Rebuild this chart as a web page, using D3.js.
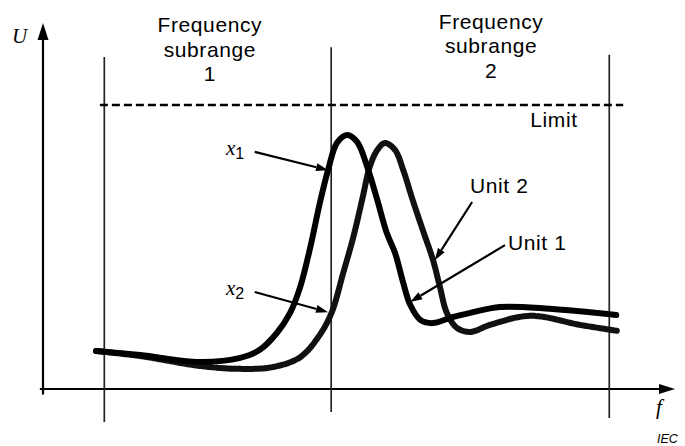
<html>
<head>
<script src='https://d3js.org/d3.v7.min.js'></script>
<style>
body {margin: 0; background: white;}
text {font-family: "Liberation Sans", Arial, sans-serif;}
.ital {font-family: "Liberation Serif", "Times New Roman", serif; font-style: italic;}
</style>
</head>
<body>
<svg width=685 height=446></svg>
<script>
// frequency f (0..100) against level U (0..100)
var unit1F = [8.4, 15.4, 24.8, 31.2, 34.3, 37.0, 39.1, 40.7, 42.3, 43.8, 45.1, 46.5, 48.1, 49.7, 51.3, 52.9, 54.4, 55.7, 57.0, 58.1, 59.7, 61.7, 64.9, 67.6, 72.3, 80.2, 90.7];
var unit1U = [10.4, 9.3, 7.4, 8.5, 10.7, 15.3, 20.8, 27.9, 38.8, 50.8, 59.8, 67.2, 69.4, 67.5, 60.7, 51.6, 42.6, 37.2, 29.0, 23.0, 18.9, 18.0, 19.7, 20.8, 22.4, 21.9, 20.2];

var unit2F = [8.4, 15.4, 24.8, 31.2, 36.4, 40.7, 43.8, 45.7, 47.5, 49.1, 50.6, 51.7, 52.9, 54.1, 55.7, 57.0, 58.5, 60.1, 61.7, 62.8, 63.9, 65.5, 67.6, 70.7, 77.1, 85.0, 90.8];
var unit2U = [10.4, 9.0, 6.3, 5.5, 6.0, 8.7, 14.8, 21.0, 31.7, 41.5, 52.5, 60.7, 65.3, 67.2, 65.3, 59.8, 51.6, 43.4, 35.3, 27.9, 20.8, 16.7, 15.6, 17.5, 20.0, 17.5, 15.9];

var subrangeF = [9.7, 45.6, 89.6];
var subrangeTop = [90.7, 93.4, 91.3];
var subrangeBottom = [-9.0, -6.3, -7.9];

var limitU = 77.6;
var limitF = [9.0, 91.8];

var subrangeLabels = [["Frequency", "subrange", "1"], ["Frequency", "subrange", "2"]];
var subrangeLabelF = [26.4, 70.9];
var subrangeLabelU = [97.5, 98.4];

// annotation arrows: [f, U] start and tip
var arrowNames = ["x1", "x2", "Unit 2", "Unit 1"];
var arrowFrom = [[33.5, 64.8], [33.5, 26.5], [67.9, 51.1], [73.1, 39.3]];
var arrowTo = [[45.1, 59.8], [45.1, 21.0], [62.0, 35.2], [58.1, 23.8]];

var svg = d3.select("svg");

var x = d3.scaleLinear().domain([0, 100]).range([43, 675]);
var y = d3.scaleLinear().domain([0, 100]).range([389, 23]);

function head(x0, y0, x1, y1, len, w) {
    var a = Math.atan2(y1 - y0, x1 - x0);
    var bx = x1 - len * Math.cos(a), by = y1 - len * Math.sin(a);
    var px = -Math.sin(a) * w / 2, py = Math.cos(a) * w / 2;
    return [[x1, y1], [bx + px, by + py], [bx - px, by - py]];
}

// axes
svg.append("line")
   .attr("x1", x(0)).attr("y1", y(-1.5)).attr("x2", x(0)).attr("y2", y(100) + 10)
   .attr("stroke", "black").attr("stroke-width", 2.2);
svg.append("polygon")
   .attr("points", head(x(0), y(0), x(0), y(100), 17, 11).join(" "))
   .attr("fill", "black");
svg.append("line")
   .attr("x1", x(-0.5)).attr("y1", y(0)).attr("x2", x(100) - 10).attr("y2", y(0))
   .attr("stroke", "black").attr("stroke-width", 2.2);
svg.append("polygon")
   .attr("points", head(x(0), y(0), x(100), y(0), 16, 10).join(" "))
   .attr("fill", "black");

svg.append("text").attr("class", "ital")
   .attr("x", 12).attr("y", 43).style("font-size", "21px").text("U");
svg.append("text").attr("class", "ital")
   .attr("x", 656).attr("y", 414).style("font-size", "21px").text("f");
svg.append("text")
   .attr("x", 657).attr("y", 443).style("font-size", "12.5px").style("font-style", "italic")
   .text("IEC");

// subrange boundaries
svg.selectAll(".sub")
   .data(subrangeF)
   .enter()
   .append("line")
    .attr("x1", function(d) {return x(d);})
    .attr("x2", function(d) {return x(d);})
    .attr("y1", function(d, i) {return y(subrangeTop[i]);})
    .attr("y2", function(d, i) {return y(subrangeBottom[i]);})
    .attr("stroke", "#222").attr("stroke-width", 1.7);

// limit
svg.append("line")
   .attr("x1", x(limitF[0])).attr("x2", x(limitF[1]))
   .attr("y1", y(limitU)).attr("y2", y(limitU))
   .attr("stroke", "black").attr("stroke-width", 2.4)
   .attr("stroke-dasharray", "8,4");
svg.append("text")
   .attr("x", 554).attr("y", 127).style("text-anchor", "middle")
   .style("font-size", "21px").style("letter-spacing", "0.6px").text("Limit");

// subrange labels
subrangeLabels.forEach(function(lines, i) {
    var t = svg.append("text")
       .attr("x", x(subrangeLabelF[i])).attr("y", y(subrangeLabelU[i]))
       .style("text-anchor", "middle").style("font-size", "21px")
       .style("letter-spacing", "0.6px");
    lines.forEach(function(s, j) {
        t.append("tspan").attr("x", x(subrangeLabelF[i])).attr("dy", j == 0 ? 0 : 24.5).text(s);
    });
});

// curves
var line = d3.line()
    .x(function(d) {return x(d[0]);})
    .y(function(d) {return y(d[1]);})
    .curve(d3.curveCatmullRom.alpha(0.5));

svg.append("path")
   .attr("d", line(d3.zip(unit2F, unit2U)))
   .attr("fill", "none").attr("stroke", "#111").attr("stroke-width", 6)
   .attr("stroke-linecap", "round").attr("stroke-linejoin", "round")
   .attr("stroke-dasharray", "3,0.8");
svg.append("path")
   .attr("d", line(d3.zip(unit1F, unit1U)))
   .attr("fill", "none").attr("stroke", "black").attr("stroke-width", 6)
   .attr("stroke-linecap", "round").attr("stroke-linejoin", "round");

// annotation arrows
arrowNames.forEach(function(n, i) {
    var x0 = x(arrowFrom[i][0]), y0 = y(arrowFrom[i][1]);
    var x1 = x(arrowTo[i][0]), y1 = y(arrowTo[i][1]);
    var h = head(x0, y0, x1, y1, 12, 8);
    svg.append("line")
       .attr("x1", x0).attr("y1", y0)
       .attr("x2", (h[1][0] + h[2][0]) / 2).attr("y2", (h[1][1] + h[2][1]) / 2)
       .attr("stroke", "black").attr("stroke-width", 2.2);
    svg.append("polygon").attr("points", h.join(" ")).attr("fill", "black");
});

// annotation labels
[["1", 155], ["2", 295]].forEach(function(s) {
    var t = svg.append("text").attr("x", 226).attr("y", s[1]);
    t.append("tspan").attr("class", "ital").style("font-size", "21px").text("x");
    t.append("tspan").attr("dy", 4).style("font-size", "16px").text(s[0]);
});
svg.append("text").attr("x", 470).attr("y", 193)
   .style("font-size", "21px").style("letter-spacing", "0.6px").text("Unit 2");
svg.append("text").attr("x", 508).attr("y", 250)
   .style("font-size", "21px").style("letter-spacing", "0.6px").text("Unit 1");
</script>
</body>
</html>
